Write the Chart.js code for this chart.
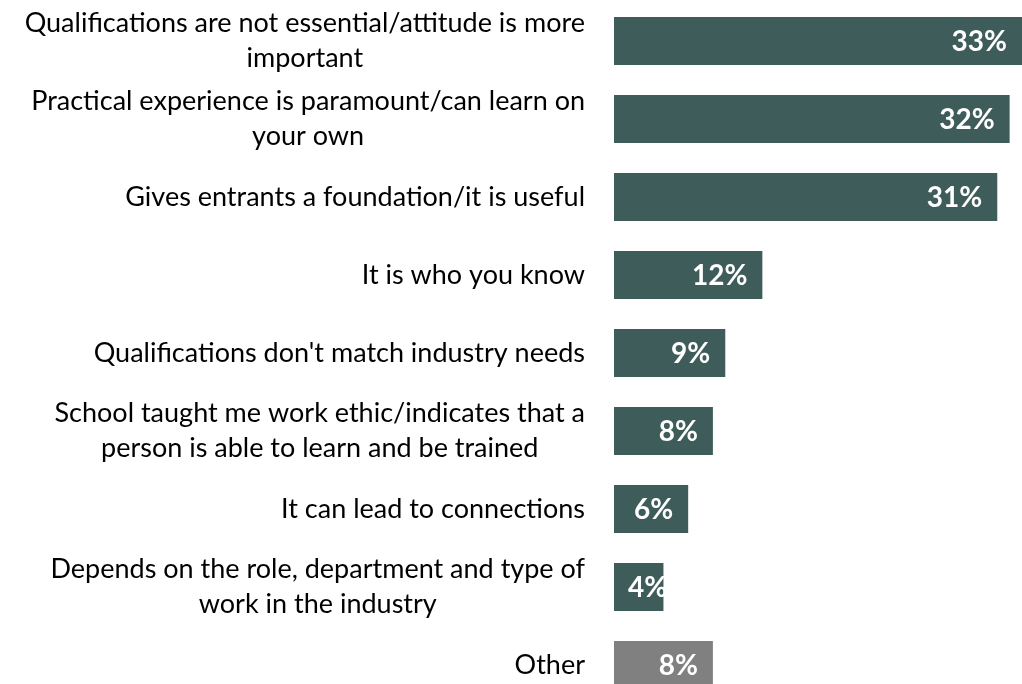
<!DOCTYPE html>
<html>
<head>
<meta charset="utf-8">
<script src="https://cdn.jsdelivr.net/npm/chart.js@4/dist/chart.umd.min.js"></script>
<style>
  html, body { margin: 0; padding: 0; background: #fff; overflow: hidden; }
  #wrap { width: 1022px; height: 684px; overflow: hidden; }
</style>
</head>
<body>
<div id="wrap"><canvas id="reasons" width="1022" height="706"></canvas></div>
<script>
const categories = [
  ["Qualifications are not essential/attitude is more", "important"],
  ["Practical experience is paramount/can learn on", "your own"],
  "Gives entrants a foundation/it is useful",
  "It is who you know",
  "Qualifications don't match industry needs",
  ["School taught me work ethic/indicates that a", "person is able to learn and be trained"],
  "It can lead to connections",
  ["Depends on the role, department and type of", "work in the industry"],
  "Other"
];
const shares = [33, 32, 31, 12, 9, 8, 6, 4, 8];

const GREEN = "#3e5c59";
const GREY = "#808080";
const LABEL_FONT = "27px Lato";
const VALUE_FONT = "bold 28px Lato";

// category text drawn left of the bars, each block centred on itself and right aligned
const categoryLabels = {
  id: "categoryLabels",
  afterDraw(chart) {
    const ctx = chart.ctx;
    const y = chart.scales.y;
    const right = chart.chartArea.left - 29;
    const lineH = 35;
    ctx.save();
    ctx.font = LABEL_FONT;
    ctx.fillStyle = "#000";
    ctx.textBaseline = "middle";
    ctx.textAlign = "center";
    categories.forEach((cat, i) => {
      const lines = Array.isArray(cat) ? cat : [cat];
      const w = Math.max(...lines.map(l => ctx.measureText(l).width));
      const cy = y.getPixelForValue(i);
      const top = cy - (lines.length - 1) * lineH / 2;
      lines.forEach((l, k) => ctx.fillText(l, right - w / 2, top + k * lineH));
    });
    ctx.restore();
  }
};

// percentage inside the end of each bar
const valueLabels = {
  id: "valueLabels",
  afterDatasetsDraw(chart) {
    const ctx = chart.ctx;
    const meta = chart.getDatasetMeta(0);
    ctx.save();
    ctx.font = VALUE_FONT;
    ctx.fillStyle = "#fff";
    ctx.textBaseline = "middle";
    ctx.textAlign = "right";
    meta.data.forEach((bar, i) => {
      const txt = shares[i] + "%";
      const w = ctx.measureText(txt).width;
      const x = Math.max(bar.x - 15, bar.base + 14 + w);
      ctx.fillText(txt, x, bar.y + 1);
    });
    ctx.restore();
  }
};

new Chart(document.getElementById("reasons"), {
  type: "bar",
  data: {
    labels: categories,
    datasets: [{
      data: shares,
      backgroundColor: ctx => ctx.index === categories.length - 1 ? GREY : GREEN,
      borderWidth: 0,
      barPercentage: 0.615,
      categoryPercentage: 1
    }]
  },
  options: {
    indexAxis: "y",
    responsive: false,
    animation: false,
    devicePixelRatio: 1,
    layout: { padding: { left: 614, right: 0, top: 2, bottom: 2 } },
    plugins: { legend: { display: false }, tooltip: { enabled: false } },
    scales: {
      x: { display: false, min: 0, max: 33 },
      y: { display: false }
    }
  },
  plugins: [categoryLabels, valueLabels]
});
</script>
</body>
</html>
